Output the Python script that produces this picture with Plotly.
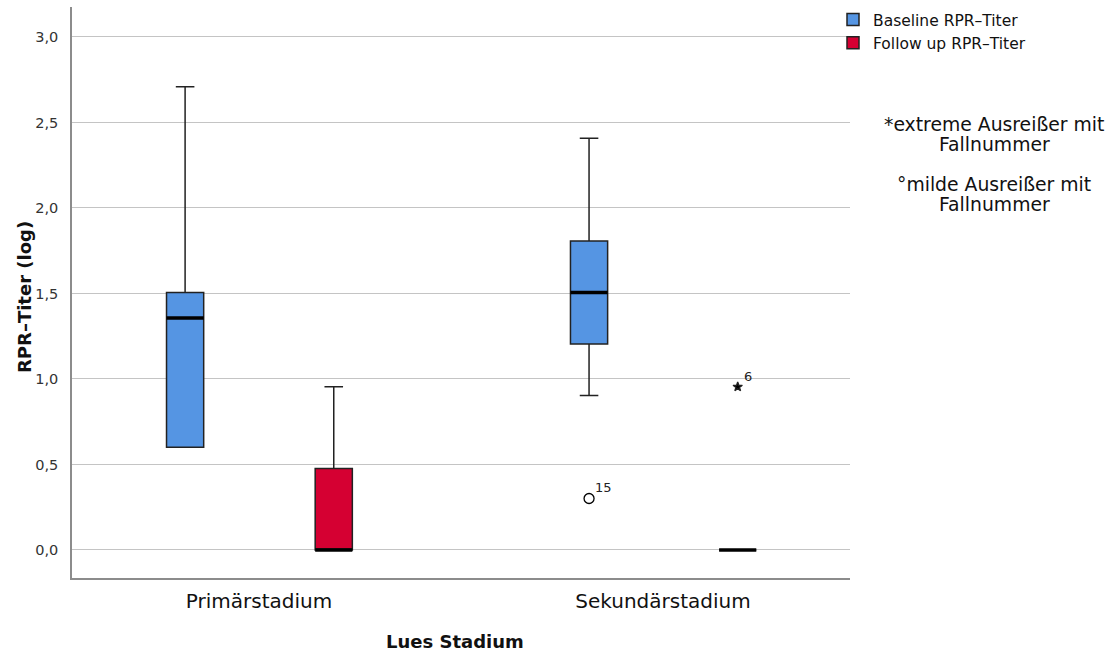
import plotly.graph_objects as go

# ---------------- data ----------------
categories = ["Primärstadium", "Sekundärstadium"]

baseline_name = "Baseline RPR–Titer"
baseline_lower = [0.600, 0.903]
baseline_q1 = [0.600, 1.204]
baseline_median = [1.356, 1.505]
baseline_q3 = [1.505, 1.806]
baseline_upper = [2.708, 2.408]

followup_name = "Follow up RPR–Titer"
followup_lower = [0.000, 0.000]
followup_q1 = [0.000, 0.000]
followup_median = [0.000, 0.000]
followup_q3 = [0.477, 0.000]
followup_upper = [0.954, 0.000]

# outliers: (category index, value, case number)
baseline_mild_outliers = [(1, 0.301, "15")]
followup_extreme_outliers = [(1, 0.954, "6")]

y_ticks = [0.0, 0.5, 1.0, 1.5, 2.0, 2.5, 3.0]

note_lines = ["*extreme Ausreißer mit", "Fallnummer", "°milde Ausreißer mit", "Fallnummer"]

# ---------------- style ----------------
FONT = "DejaVu Sans"
BLUE = "#5595E3"
RED = "#D50032"
EDGE = "#222222"
OFFSETS = {"base": -0.183, "follow": 0.185}
BOX_W = 0.092
L, R, T, B = 72, 260, 7, 74
W, H = 1110, 652
PW, PH = W - L - R, H - T - B

def px_x(p):
    return (p - L) / PW

def px_y(p):
    return (H - B - p) / PH

fig = go.Figure()

def add_group(key, name, color, lower, q1, med, q3, upper):
    xs = [i + OFFSETS[key] for i in range(len(categories))]
    fig.add_trace(go.Box(
        x=xs, lowerfence=lower, q1=q1, median=med, q3=q3, upperfence=upper,
        name=name, fillcolor=color, line=dict(color=EDGE, width=1.5),
        width=BOX_W, whiskerwidth=0.5, boxpoints=False, hoverinfo="skip",
        legendgroup=key,
    ))
    # thick median lines
    mx, my = [], []
    for x, m in zip(xs, med):
        mx += [x - BOX_W / 2, x + BOX_W / 2, None]
        my += [m, m, None]
    fig.add_trace(go.Scatter(x=mx, y=my, mode="lines",
                             line=dict(color="#000000", width=3.5),
                             showlegend=False, hoverinfo="skip"))

add_group("base", baseline_name, BLUE, baseline_lower, baseline_q1,
          baseline_median, baseline_q3, baseline_upper)
add_group("follow", followup_name, RED, followup_lower, followup_q1,
          followup_median, followup_q3, followup_upper)

annotations = []

def add_outliers(key, pts, symbol, size):
    xs = [c + OFFSETS[key] for c, v, lab in pts]
    ys = [v for c, v, lab in pts]
    fig.add_trace(go.Scatter(
        x=xs, y=ys, mode="markers",
        marker=dict(symbol=symbol, size=size, color="#000000",
                    line=dict(color="#222222", width=1.3)),
        showlegend=False, hoverinfo="skip"))
    for x, y, (c, v, lab) in zip(xs, ys, pts):
        annotations.append(dict(x=x, y=y, xref="x", yref="y", text=lab,
                                showarrow=False, xanchor="left", yanchor="bottom",
                                xshift=4, yshift=1,
                                font=dict(family=FONT, size=13, color="#222")))

add_outliers("base", baseline_mild_outliers, "circle-open", 10)
add_outliers("follow", followup_extreme_outliers, "star", 7)

# side notes (one annotation per line)
for text, ypx in zip(note_lines, [124, 144, 184, 204]):
    annotations.append(dict(xref="paper", yref="paper", x=px_x(994), y=px_y(ypx),
                            text=text, showarrow=False,
                            xanchor="center", yanchor="middle",
                            font=dict(family=FONT, size=18.8, color="#111")))
# axis titles
annotations.append(dict(xref="paper", yref="paper", x=px_x(24), y=px_y(297),
                        text="<b>RPR–Titer (log)</b>", showarrow=False, textangle=-90,
                        xanchor="center", yanchor="middle",
                        font=dict(family=FONT, size=18, color="#111")))
annotations.append(dict(xref="paper", yref="paper", x=px_x(455), y=px_y(641),
                        text="<b>Lues Stadium</b>", showarrow=False,
                        xanchor="center", yanchor="middle",
                        font=dict(family=FONT, size=18, color="#111")))

fig.update_layout(
    width=W, height=H,
    margin=dict(l=L, r=R, t=T, b=B, autoexpand=False),
    paper_bgcolor="white", plot_bgcolor="white",
    separators=",.",
    font=dict(family=FONT, color="#222"),
    showlegend=True,
    legend=dict(x=px_x(833), y=px_y(3), xanchor="left", yanchor="top",
                font=dict(family=FONT, size=15.5, color="#111"),
                tracegroupgap=0, bgcolor="rgba(0,0,0,0)"),
    annotations=annotations,
)
fig.update_xaxes(
    range=[-0.463, 1.463], tickmode="array",
    tickvals=list(range(len(categories))), ticktext=categories,
    showgrid=False, zeroline=False, showline=True, linecolor="#8c8c8c", linewidth=1.5,
    ticks="", ticklabelstandoff=4, tickfont=dict(family=FONT, size=20, color="#111"),
)
fig.update_yaxes(
    range=[-0.164, 3.175], tickmode="array", tickvals=y_ticks,
    tickformat=".1f", showgrid=True, gridcolor="#c4c4c4", gridwidth=1.2,
    zeroline=False, showline=True, linecolor="#8c8c8c", linewidth=1.5,
    ticks="", ticklabelstandoff=9, tickfont=dict(family=FONT, size=14.5, color="#333"),
)

fig.write_html("out.html", config={"displayModeBar": False},
               post_script="document.body.style.margin='0px';")
